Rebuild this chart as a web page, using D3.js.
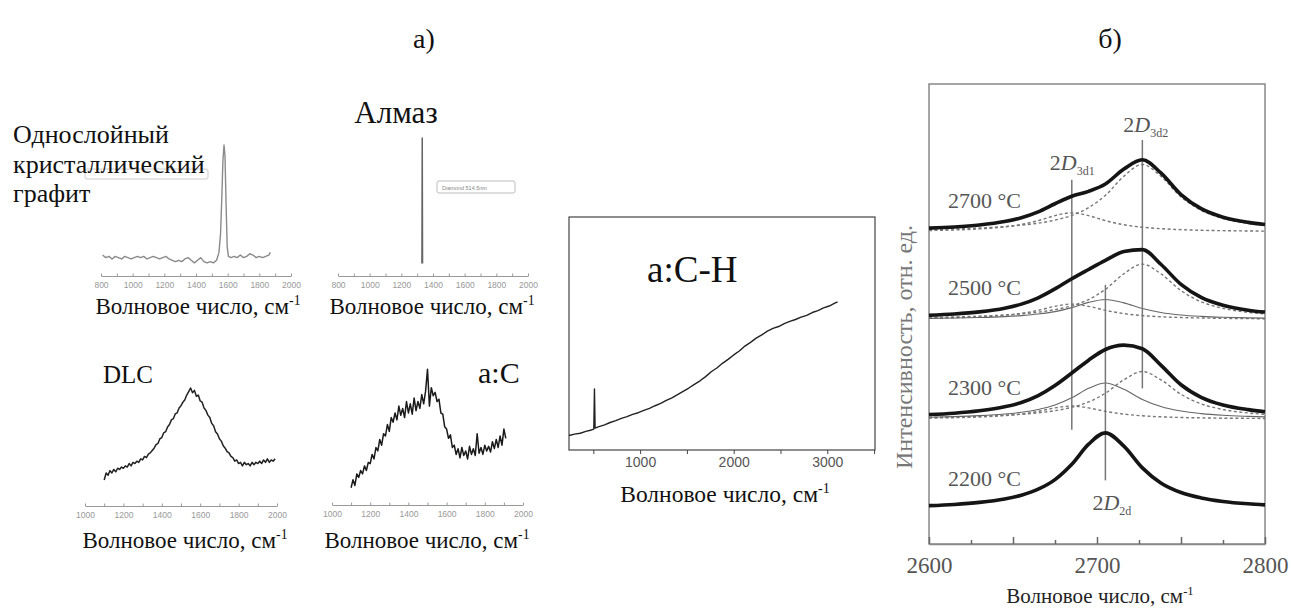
<!DOCTYPE html>
<html>
<head>
<meta charset="utf-8">
<script src="https://cdn.jsdelivr.net/npm/d3@7"></script>
<style>
body { margin: 0; background: #fff; }
svg { display: block; }
</style>
</head>
<body>
<svg id="fig"></svg>
<script>
// ---------- data ----------
// (а) single spectra, [wavenumber cm-1, relative intensity]
var graphite = [[810,0.16],[830,0.14],[850,0.15],[870,0.13],[890,0.15],[910,0.14],[930,0.13],[950,0.15],[970,0.14],[990,0.13],
	[1010,0.14],[1030,0.15],[1050,0.14],[1070,0.15],[1090,0.13],[1110,0.14],[1130,0.15],[1150,0.14],[1170,0.13],[1190,0.14],
	[1210,0.15],[1230,0.13],[1250,0.12],[1270,0.11],[1290,0.12],[1310,0.11],[1330,0.13],[1350,0.14],[1370,0.12],[1390,0.10],
	[1410,0.12],[1430,0.14],[1450,0.11],[1470,0.10],[1490,0.11],[1510,0.10],[1530,0.12],[1545,0.18],[1555,0.32],[1563,0.60],
	[1570,0.88],[1577,1.00],[1583,0.92],[1590,0.55],[1597,0.22],[1605,0.15],[1620,0.14],[1640,0.15],[1660,0.14],[1680,0.16],
	[1700,0.14],[1720,0.15],[1740,0.17],[1760,0.16],[1780,0.14],[1800,0.15],[1820,0.14],[1840,0.15],[1860,0.16],[1870,0.18]];

var diamond = [[1330,0.09],[1332,1.00],[1334,0.09]];

var dlc = [[1100,0.22],[1110,0.28],[1120,0.26],[1130,0.30],[1140,0.28],[1150,0.31],[1160,0.29],[1170,0.32],[1180,0.31],[1190,0.33],
	[1200,0.32],[1210,0.34],[1220,0.33],[1230,0.36],[1240,0.34],[1250,0.37],[1260,0.36],[1270,0.38],[1280,0.37],[1290,0.40],
	[1300,0.39],[1310,0.42],[1320,0.41],[1330,0.44],[1340,0.45],[1350,0.47],[1360,0.49],[1370,0.52],[1380,0.53],[1390,0.57],
	[1400,0.58],[1410,0.62],[1420,0.63],[1430,0.67],[1440,0.69],[1450,0.73],[1460,0.74],[1470,0.78],[1480,0.79],[1490,0.83],
	[1500,0.85],[1510,0.88],[1520,0.90],[1530,0.94],[1540,0.97],[1550,1.00],[1560,0.96],[1570,0.98],[1580,0.93],[1590,0.94],
	[1600,0.89],[1610,0.88],[1620,0.83],[1630,0.81],[1640,0.77],[1650,0.75],[1660,0.70],[1670,0.68],[1680,0.63],[1690,0.61],
	[1700,0.57],[1710,0.55],[1720,0.51],[1730,0.49],[1740,0.46],[1750,0.45],[1760,0.42],[1770,0.41],[1780,0.38],[1790,0.39],
	[1800,0.36],[1810,0.37],[1820,0.34],[1830,0.37],[1840,0.35],[1850,0.36],[1860,0.34],[1870,0.37],[1880,0.35],[1890,0.37],
	[1900,0.36],[1910,0.38],[1920,0.36],[1930,0.39],[1940,0.37],[1950,0.40],[1960,0.37],[1970,0.39],[1980,0.38],[1990,0.40]];

var aC = [[1100,0.15],[1110,0.22],[1120,0.17],[1130,0.27],[1140,0.24],[1150,0.30],[1160,0.27],[1170,0.34],[1180,0.30],[1190,0.37],
	[1200,0.36],[1210,0.44],[1220,0.40],[1230,0.50],[1240,0.47],[1250,0.57],[1260,0.52],[1270,0.62],[1280,0.60],[1290,0.70],
	[1300,0.64],[1310,0.76],[1320,0.72],[1330,0.80],[1340,0.74],[1350,0.86],[1360,0.78],[1370,0.84],[1380,0.76],[1390,0.90],
	[1400,0.80],[1410,0.88],[1420,0.79],[1430,0.93],[1440,0.82],[1450,0.90],[1460,0.84],[1470,0.96],[1480,0.88],[1490,0.99],
	[1500,1.18],[1510,0.86],[1520,1.02],[1530,0.95],[1540,0.98],[1550,0.90],[1560,0.92],[1570,0.80],[1580,0.79],[1590,0.68],
	[1600,0.66],[1610,0.58],[1620,0.61],[1630,0.50],[1640,0.52],[1650,0.44],[1660,0.49],[1670,0.41],[1680,0.50],[1690,0.43],
	[1700,0.47],[1710,0.40],[1720,0.51],[1730,0.44],[1740,0.49],[1750,0.43],[1760,0.62],[1770,0.45],[1780,0.50],[1790,0.44],
	[1800,0.52],[1810,0.47],[1820,0.51],[1830,0.46],[1840,0.55],[1850,0.49],[1860,0.57],[1870,0.50],[1880,0.60],[1890,0.52],
	[1900,0.66],[1910,0.58]];

var aCH = [[240,0.062],[300,0.068],[360,0.072],[420,0.080],[480,0.086],[505,0.090],[512,0.262],[519,0.094],[560,0.100],[620,0.108],
	[680,0.118],[740,0.126],[800,0.136],[860,0.143],[920,0.153],[980,0.160],[1040,0.170],[1100,0.179],[1160,0.190],[1220,0.200],
	[1280,0.213],[1340,0.224],[1400,0.238],[1460,0.252],[1520,0.266],[1580,0.282],[1640,0.297],[1700,0.315],[1760,0.336],[1820,0.352],
	[1880,0.372],[1940,0.389],[2000,0.408],[2060,0.425],[2120,0.446],[2180,0.462],[2240,0.480],[2300,0.494],[2360,0.510],[2420,0.522],
	[2480,0.530],[2540,0.542],[2600,0.552],[2660,0.560],[2720,0.570],[2780,0.578],[2840,0.590],[2900,0.598],[2960,0.610],[3020,0.618],
	[3080,0.630],[3110,0.636]];

var ticksWide = [800, 1000, 1200, 1400, 1600, 1800, 2000];
var ticksNarrow = [1000, 1200, 1400, 1600, 1800, 2000];
var ticksACH = [1000, 2000, 3000];

// (б) 2D band vs annealing temperature
var shiftX = [2600, 2615, 2630, 2645, 2655, 2665, 2675, 2685, 2695, 2705, 2716, 2727, 2738, 2750, 2762, 2775, 2790, 2800];
var temps = ["2200 °C", "2300 °C", "2500 °C", "2700 °C"];
var offsets = [0.45, 1.63, 2.93, 4.07];
var totals = [
	[0.050,0.066,0.093,0.138,0.187,0.265,0.390,0.590,0.852,1.000,0.826,0.543,0.346,0.221,0.151,0.105,0.074,0.060],
	[0.059,0.076,0.107,0.159,0.216,0.306,0.437,0.600,0.768,0.907,0.964,0.917,0.704,0.447,0.284,0.184,0.123,0.096],
	[0.053,0.070,0.098,0.146,0.199,0.281,0.398,0.530,0.651,0.769,0.885,0.910,0.719,0.456,0.287,0.184,0.120,0.095],
	[0.050,0.065,0.091,0.136,0.186,0.262,0.368,0.466,0.530,0.626,0.821,0.942,0.770,0.488,0.304,0.193,0.125,0.097]];
// fitted components: 2D3d1 (dashed), 2D2d (thin), 2D3d2 (dashed); null = not present
var comp3d1 = [null,
	[0.013,0.018,0.027,0.045,0.066,0.100,0.145,0.170,0.145,0.100,0.064,0.042,0.029,0.020,0.015,0.011,0.009,0.007],
	[0.015,0.021,0.032,0.053,0.078,0.118,0.170,0.200,0.170,0.118,0.075,0.049,0.034,0.024,0.018,0.013,0.010,0.008],
	[0.019,0.026,0.040,0.066,0.098,0.148,0.213,0.250,0.213,0.148,0.094,0.062,0.043,0.030,0.022,0.017,0.013,0.011]];
var comp2d = [null,
	[0.024,0.031,0.044,0.065,0.088,0.125,0.183,0.277,0.400,0.470,0.388,0.255,0.163,0.104,0.071,0.049,0.035,0.028],
	[0.013,0.017,0.024,0.036,0.049,0.069,0.101,0.153,0.222,0.260,0.215,0.141,0.090,0.057,0.039,0.027,0.019,0.016],
	null];
var comp3d2 = [null,
	[0.022,0.027,0.036,0.049,0.062,0.081,0.109,0.153,0.223,0.337,0.512,0.620,0.512,0.323,0.198,0.124,0.079,0.061],
	[0.025,0.032,0.042,0.057,0.072,0.094,0.127,0.177,0.259,0.391,0.595,0.720,0.595,0.375,0.230,0.144,0.091,0.071],
	[0.031,0.039,0.051,0.070,0.088,0.114,0.155,0.216,0.317,0.478,0.727,0.880,0.727,0.458,0.282,0.176,0.112,0.086]];
var peakPos = [2685, 2727, 2705];
var peakSub = ["3d1", "3d2", "2d"];
var peakSpan = [[1.49, 4.75], [2.03, 5.27], [0.83, 3.38]];
var ticksShift = [2600, 2700, 2800];

// ---------- drawing ----------
var serif = "'Liberation Serif', 'Times New Roman', serif";
var sans = "'Liberation Sans', Arial, sans-serif";
var svg = d3.select("#fig").attr("width", 1291).attr("height", 609);

function text(x, y, str, size, opts) {
	opts = opts || {};
	return svg.append("text")
		.style("font-family", opts.family || serif)
		.attr("x", x)
		.attr("y", y)
		.attr("font-size", size)
		.attr("fill", opts.fill || "#111")
		.attr("text-anchor", opts.anchor || "start")
		.text(str);
}

function waveLabel(cx, y, size, fill) {
	var t = text(cx, y, null, size, {anchor: "middle", fill: fill});
	t.append("tspan").text("Волновое число, см");
	t.append("tspan").attr("dy", -size * 0.4).attr("font-size", size * 0.6).text("-1");
}

function trace(pts, x, y, color, width) {
	svg.append("path")
		.datum(pts)
		.attr("fill", "none")
		.attr("stroke", color)
		.attr("stroke-width", width)
		.attr("stroke-linejoin", "round")
		.attr("d", d3.line().x(function(d) { return x(d[0]); }).y(function(d) { return y(d[1]); }));
}

// little axes under the four small spectra
function smallAxis(x, y0, labels) {
	var dom = x.domain();
	var minor = d3.range(dom[0], dom[1] + 1, 100);
	var g = svg.append("g").attr("transform", "translate(0," + y0 + ")");
	g.call(d3.axisBottom(x).tickValues(minor).tickSize(-2.5).tickSizeOuter(0).tickFormat(""));
	var gl = svg.append("g").attr("transform", "translate(0," + y0 + ")");
	gl.call(d3.axisBottom(x).tickValues(labels).tickSize(0).tickPadding(6).tickFormat(d3.format("d")));
	gl.select(".domain").remove();
	g.selectAll("line, path").attr("stroke", "#999");
	gl.selectAll("text").attr("fill", "#999").attr("font-size", 8.5).style("font-family", sans);
}

// а) б) headers
text(424, 48, "а)", 28, {anchor: "middle"});
text(1110, 48, "б)", 28, {anchor: "middle"});

// graphite
var gx = d3.scaleLinear().domain([800, 2000]).range([101, 291]);
var gy = d3.scaleLinear().domain([0, 1]).range([276, 145]);
svg.append("rect").attr("x", 85).attr("y", 169).attr("width", 123).attr("height", 10)
	.attr("rx", 2).attr("fill", "none").attr("stroke", "#ccc");
trace(graphite, gx, gy, "#8a8a8a", 1.4);
smallAxis(gx, 276, ticksWide);
text(13, 143, "Однослойный", 26);
text(13, 173, "кристаллический", 26);
text(13, 202, "графит", 26);
waveLabel(198, 314, 23);

// diamond
var dx = d3.scaleLinear().domain([800, 2000]).range([338, 528]);
var dy = d3.scaleLinear().domain([0, 1]).range([276, 138]);
trace(diamond, dx, dy, "#666", 1.5);
svg.append("rect").attr("x", 437).attr("y", 181).attr("width", 78).attr("height", 12)
	.attr("rx", 2).attr("fill", "none").attr("stroke", "#bbb");
text(442, 189.5, "Diamond 514.5nm", 5.5, {family: sans, fill: "#888"});
smallAxis(dx, 276, ticksWide);
text(396, 123, "Алмаз", 31, {anchor: "middle"});
waveLabel(432, 314, 23);

// DLC
var lx = d3.scaleLinear().domain([1000, 2000]).range([85, 277]);
var ly = d3.scaleLinear().domain([0, 1]).range([506, 388]);
trace(dlc, lx, ly, "#222", 1.5);
smallAxis(lx, 506, ticksNarrow);
text(103, 383, "DLC", 25);
waveLabel(185, 548, 23);

// a:C
var ax = d3.scaleLinear().domain([1000, 2000]).range([332, 523]);
var ay = d3.scaleLinear().domain([0, 1]).range([505, 390]);
trace(aC, ax, ay, "#1a1a1a", 1.5);
smallAxis(ax, 505, ticksNarrow);
text(478, 383, "a:C", 30);
waveLabel(427, 548, 23);

// a:C-H
var hx = d3.scaleLinear().domain([240, 3510]).range([569, 875]);
var hy = d3.scaleLinear().domain([0, 1]).range([450, 217]);
svg.append("rect").attr("x", 569).attr("y", 217).attr("width", 306).attr("height", 233)
	.attr("fill", "none").attr("stroke", "#444").attr("stroke-width", 1.2);
var hAxis = svg.append("g").attr("transform", "translate(0,450)")
	.call(d3.axisBottom(hx).tickValues([500, 1000, 1500, 2000, 2500, 3000, 3500]).tickSize(4).tickSizeOuter(0)
		.tickFormat(function(d) { return ticksACH.indexOf(d) >= 0 ? d : ""; }));
hAxis.select(".domain").remove();
hAxis.selectAll("line").attr("stroke", "#444");
hAxis.selectAll("text").attr("fill", "#555").attr("font-size", 14).style("font-family", sans);
trace(aCH, hx, hy, "#222", 1.4);
text(647, 282, "a:C-H", 37);
waveLabel(725, 502, 23.5);

// б) 2D band
var sx = d3.scaleLinear().domain([2600, 2800]).range([929, 1265]);
var sy = d3.scaleLinear().domain([0, 6]).range([544, 84]);
svg.append("rect").attr("x", 929).attr("y", 84).attr("width", 336).attr("height", 460)
	.attr("fill", "none").attr("stroke", "#888").attr("stroke-width", 1.5);

var smooth = d3.line().curve(d3.curveMonotoneX)
	.x(function(d) { return sx(d[0]); })
	.y(function(d) { return sy(d[1]); });

function shifted(vals, off) {
	return vals.map(function(v, i) { return [shiftX[i], v + off]; });
}

totals.forEach(function(vals, k) {
	var off = offsets[k];
	[[comp3d1[k], "3,2.5", 1.4, "#777"], [comp3d2[k], "3,2.5", 1.4, "#777"], [comp2d[k], null, 1.1, "#666"]]
		.forEach(function(c) {
			if (!c[0]) return;
			svg.append("path")
				.attr("d", smooth(shifted(c[0], off)))
				.attr("fill", "none")
				.attr("stroke", c[3])
				.attr("stroke-width", c[2])
				.attr("stroke-dasharray", c[1]);
		});
});

// peak position markers
peakPos.forEach(function(p, i) {
	svg.append("line")
		.attr("x1", sx(p)).attr("x2", sx(p))
		.attr("y1", sy(peakSpan[i][0])).attr("y2", sy(peakSpan[i][1]))
		.attr("stroke", "#777").attr("stroke-width", 1.5);
});

totals.forEach(function(vals, k) {
	svg.append("path")
		.attr("d", smooth(shifted(vals, offsets[k])))
		.attr("fill", "none")
		.attr("stroke", "#151515")
		.attr("stroke-width", 3.6)
		.attr("stroke-linejoin", "round");
	text(948, sy(offsets[k]) - 24, temps[k], 22, {fill: "#555"});
});

// peak names
function peakName(x, y, sub) {
	var t = text(x, y, "2", 22, {fill: "#555"});
	t.append("tspan").attr("font-style", "italic").text("D");
	t.append("tspan").attr("dy", 5).attr("font-size", 12).text(sub);
}
peakName(sx(peakPos[0]) - 22, sy(peakSpan[0][1]) - 10, peakSub[0]);
peakName(sx(peakPos[1]) - 19, sy(peakSpan[1][1]) - 8, peakSub[1]);
peakName(sx(peakPos[2]) - 13, sy(peakSpan[2][0]) + 30, peakSub[2]);

var sAxis = svg.append("g").attr("transform", "translate(0,544)")
	.call(d3.axisBottom(sx).tickValues([2600, 2650, 2700, 2750, 2800]).tickSize(-7).tickSizeOuter(0)
		.tickPadding(13).tickFormat(function(d) { return ticksShift.indexOf(d) >= 0 ? d : ""; }));
var sMinor = svg.append("g").attr("transform", "translate(0,544)")
	.call(d3.axisBottom(sx).tickValues([2625, 2675, 2725, 2775]).tickSize(-4).tickSizeOuter(0).tickFormat(""));
sMinor.select(".domain").remove();
sAxis.select(".domain").attr("stroke", "#888").attr("stroke-width", 1.5);
sAxis.selectAll("line").attr("stroke", "#666").attr("stroke-width", 1.5);
sMinor.selectAll("line").attr("stroke", "#666").attr("stroke-width", 1.5);
sAxis.selectAll("text").attr("fill", "#555").attr("font-size", 23).style("font-family", serif);
waveLabel(1100, 603, 21, "#222");

text(0, 0, "Интенсивность, отн. ед.", 24, {anchor: "middle", fill: "#777"})
	.attr("transform", "translate(912,347) rotate(-90)");
</script>
</body>
</html>
